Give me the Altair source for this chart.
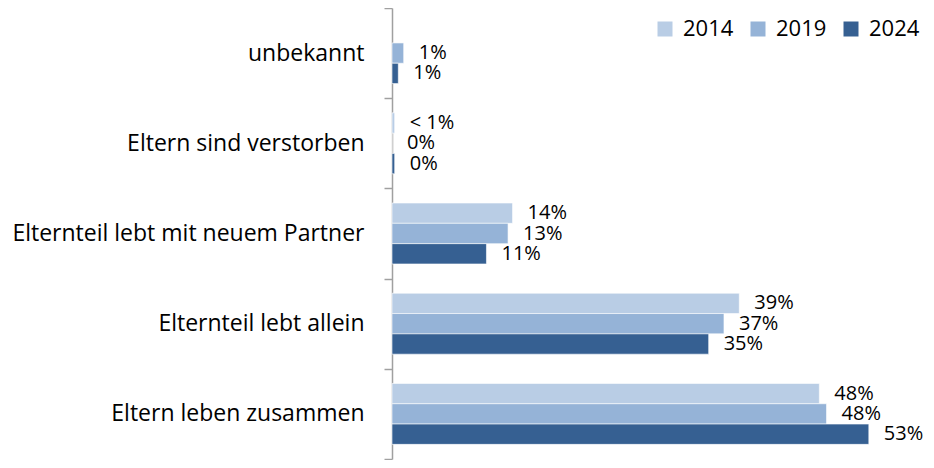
import altair as alt
import pandas as pd

categories = ["unbekannt", "Eltern sind verstorben", "Elternteil lebt mit neuem Partner",
              "Elternteil lebt allein", "Eltern leben zusammen"]
years = ["2014", "2019", "2024"]
v2014 = [None, 0.3, 13.4, 38.6, 47.5]
v2019 = [1.3, 0.0, 12.9, 36.9, 48.3]
v2024 = [0.7, 0.3, 10.5, 35.2, 53.0]
labels2014 = ["", "< 1%", "14%", "39%", "48%"]
labels2019 = ["1%", "0%", "13%", "37%", "48%"]
labels2024 = ["1%", "0%", "11%", "35%", "53%"]
colors = ["#B9CDE5", "#95B3D7", "#366092"]

rows = []
for yr, vals, labs in zip(years, [v2014, v2019, v2024], [labels2014, labels2019, labels2024]):
    for c, v, l in zip(categories, vals, labs):
        if v is None:
            continue
        rows.append({"Kategorie": c, "Jahr": yr, "Wert": v, "Label": l})
df = pd.DataFrame(rows)

FONT = "Open Sans"

y_enc = alt.Y("Kategorie:N", sort=categories, title=None,
              scale=alt.Scale(paddingInner=0, paddingOuter=0),
              axis=alt.Axis(tickBand="extent", labelFontSize=23, labelFont=FONT,
                            labelColor="#000000", labelPadding=20, tickSize=8,
                            domainColor="#A0A0A0", tickColor="#A0A0A0",
                            domainWidth=1.5, tickWidth=1.5, labelLimit=500))
yoff = alt.YOffset("Jahr:N", sort=years, scale=alt.Scale(paddingInner=0, paddingOuter=0.72))
x_enc = alt.X("Wert:Q", scale=alt.Scale(domain=[0, 57.8], nice=False), axis=None)

bars = alt.Chart(df).mark_bar(stroke="white", strokeWidth=0.6).encode(
    x=x_enc, y=y_enc, yOffset=yoff,
    color=alt.Color("Jahr:N", sort=years,
                    scale=alt.Scale(domain=years, range=colors),
                    legend=alt.Legend(title=None, orient="none", direction="horizontal",
                                      legendX=262, legendY=10, symbolType="square",
                                      symbolSize=225, symbolStrokeWidth=0,
                                      labelFontSize=22, labelFont=FONT, labelColor="#000000",
                                      labelOffset=7, columnPadding=13)),
)

text = alt.Chart(df).mark_text(align="left", baseline="middle", dx=15, fontSize=20,
                               font=FONT, color="#000000").encode(
    x=x_enc, y=y_enc, yOffset=yoff, text="Label:N"
)

chart = (bars + text).properties(
    width=520, height=451,
    autosize=alt.AutoSizeParams(type="none"),
    padding={"left": 384, "top": 0, "right": 14, "bottom": 1},
).configure_view(stroke=None)
chart.save("out.html", embed_options={"renderer": "svg", "actions": False})
